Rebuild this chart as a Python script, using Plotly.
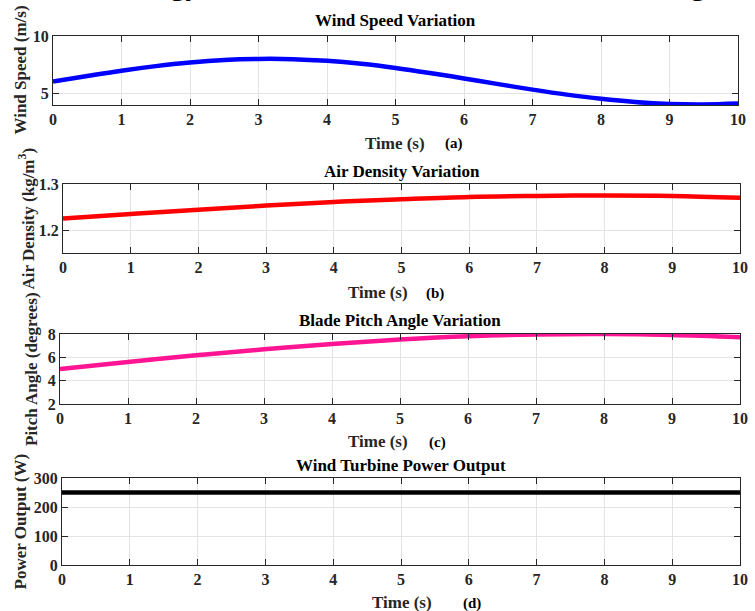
import plotly.graph_objects as go

W, H = 755, 611
FONT = "Liberation Serif, Times New Roman, serif"

# ---------------- data ----------------
time_fine = [0, 0.5, 1, 1.5, 2, 2.5, 3, 3.5, 4, 4.5, 5, 5.5, 6, 6.5, 7, 7.5, 8, 8.5, 9, 9.5, 10]
wind_speed = [6.00, 6.49, 6.96, 7.36, 7.68, 7.90, 7.99, 7.97, 7.82, 7.56, 7.20,
              6.76, 6.28, 5.78, 5.30, 4.86, 4.49, 4.21, 4.04, 4.00, 4.08]

time_coarse = [0, 1, 2, 3, 4, 5, 6, 7, 8, 9, 10]
air_density = [1.225, 1.235, 1.244, 1.253, 1.261, 1.267, 1.272, 1.274, 1.275, 1.274, 1.270]
pitch_angle = [5.00, 5.60, 6.17, 6.69, 7.15, 7.52, 7.80, 7.96, 8.00, 7.92, 7.73]
power_output = [250, 250, 250, 250, 250, 250, 250, 250, 250, 250, 250]

x_ticks = [0, 1, 2, 3, 4, 5, 6, 7, 8, 9, 10]
wind_ticks = [5, 10]
density_ticks = [1.2, 1.3]
pitch_ticks = [2, 4, 6, 8]
power_ticks = [0, 100, 200, 300]

panel_titles = ["Wind Speed Variation", "Air Density Variation",
                "Blade Pitch Angle Variation", "Wind Turbine Power Output"]
y_titles = ["Wind Speed (m/s)", "Air Density (kg/m<sup>3</sup>)",
            "Pitch Angle (degrees)", "Power Output (W)"]
panel_tags = ["(a)", "(b)", "(c)", "(d)"]
x_title = "Time (s)"
super_title = "Wind Energy Conversion Characteristics Monitoring"

# ---------------- layout geometry (pixels) ----------------
boxes = [  # left, right, top, bottom
    (53, 738, 36, 105),
    (63, 740, 184, 253),
    (60, 740, 334, 404),
    (62, 740, 478, 565),
]
y_ranges = [[3.95, 10], [1.15, 1.3], [2, 8], [0, 300]]
y_tickvals = [wind_ticks, density_ticks, pitch_ticks, power_ticks]
title_y = [20, 171, 320, 465]
xtitle_y = [143, 292, 441, 602]
xtitle_x = [395, 378, 378, 402]
tag_x = [454, 435, 437, 472]
ytitle_x = [20, 26, 31, 20]

def px(x):
    return x / W

def py(y):
    return 1 - y / H

series = [
    (time_fine, wind_speed, "#0000FF"),
    (time_coarse, air_density, "#FF0000"),
    (time_coarse, pitch_angle, "#FF1493"),
    (time_coarse, power_output, "#000000"),
]

fig = go.Figure()
tick_font = dict(family=FONT, size=16, color="#262626", weight="bold")

annotations = []
for i, ((xs, ys, col), (l, r, t, b)) in enumerate(zip(series, boxes)):
    n = "" if i == 0 else str(i + 1)
    fig.add_trace(go.Scatter(
        x=xs, y=ys, mode="lines",
        line=dict(color=col, width=4.5, shape="spline"),
        xaxis="x" + n, yaxis="y" + n, showlegend=False, hoverinfo="skip"))
    common = dict(showline=True, linecolor="#262626", linewidth=1.2,
                  mirror="ticks", ticks="inside", ticklen=6, tickwidth=1.2,
                  tickcolor="#262626", showgrid=True, gridcolor="#e3e3e3",
                  gridwidth=1, zeroline=False, tickfont=tick_font,
                  automargin=False)
    fig.layout["xaxis" + n] = dict(
        domain=[px(l), px(r)], range=[0, 10], tickvals=x_ticks,
        anchor="y" + n, **common)
    fig.layout["yaxis" + n] = dict(
        domain=[py(b), py(t)], range=y_ranges[i], tickvals=y_tickvals[i],
        anchor="x" + n, **common)
    cx = (l + r) / 2
    annotations.append(dict(
        text=panel_titles[i], x=px(cx), y=py(title_y[i]), xref="paper", yref="paper",
        xanchor="center", yanchor="middle", showarrow=False,
        font=dict(family=FONT, size=17, color="#000000", weight="bold")))
    annotations.append(dict(
        text=x_title, x=px(xtitle_x[i]), y=py(xtitle_y[i]), xref="paper", yref="paper",
        xanchor="center", yanchor="middle", showarrow=False,
        font=dict(family=FONT, size=17, color="#262626", weight="bold")))
    annotations.append(dict(
        text=panel_tags[i], x=px(tag_x[i]), y=py(xtitle_y[i] + 1), xref="paper", yref="paper",
        xanchor="center", yanchor="middle", showarrow=False,
        font=dict(family=FONT, size=15, color="#000000", weight="bold")))
    annotations.append(dict(
        text=y_titles[i], x=px(ytitle_x[i]), y=py((t + b) / 2), xref="paper", yref="paper",
        xanchor="center", yanchor="middle", showarrow=False, textangle=-90,
        font=dict(family=FONT, size=17, color="#262626", weight="bold")))

# super title, mostly cut off at the top edge as in the reference
annotations.append(dict(
    text=super_title, x=px(29), y=py(2.3), xref="paper", yref="paper",
    xanchor="left", yanchor="bottom", showarrow=False, borderpad=0,
    font=dict(family=FONT, size=29.7, color="#000000", weight="bold")))

fig.update_layout(
    width=W, height=H,
    margin=dict(l=0, r=0, t=0, b=0),
    paper_bgcolor="white", plot_bgcolor="white",
    annotations=annotations,
    showlegend=False,
)

fig.write_html(
    "out.html",
    config={"displayModeBar": False},
    post_script="document.body.style.margin='0';document.body.style.overflow='hidden';",
)
